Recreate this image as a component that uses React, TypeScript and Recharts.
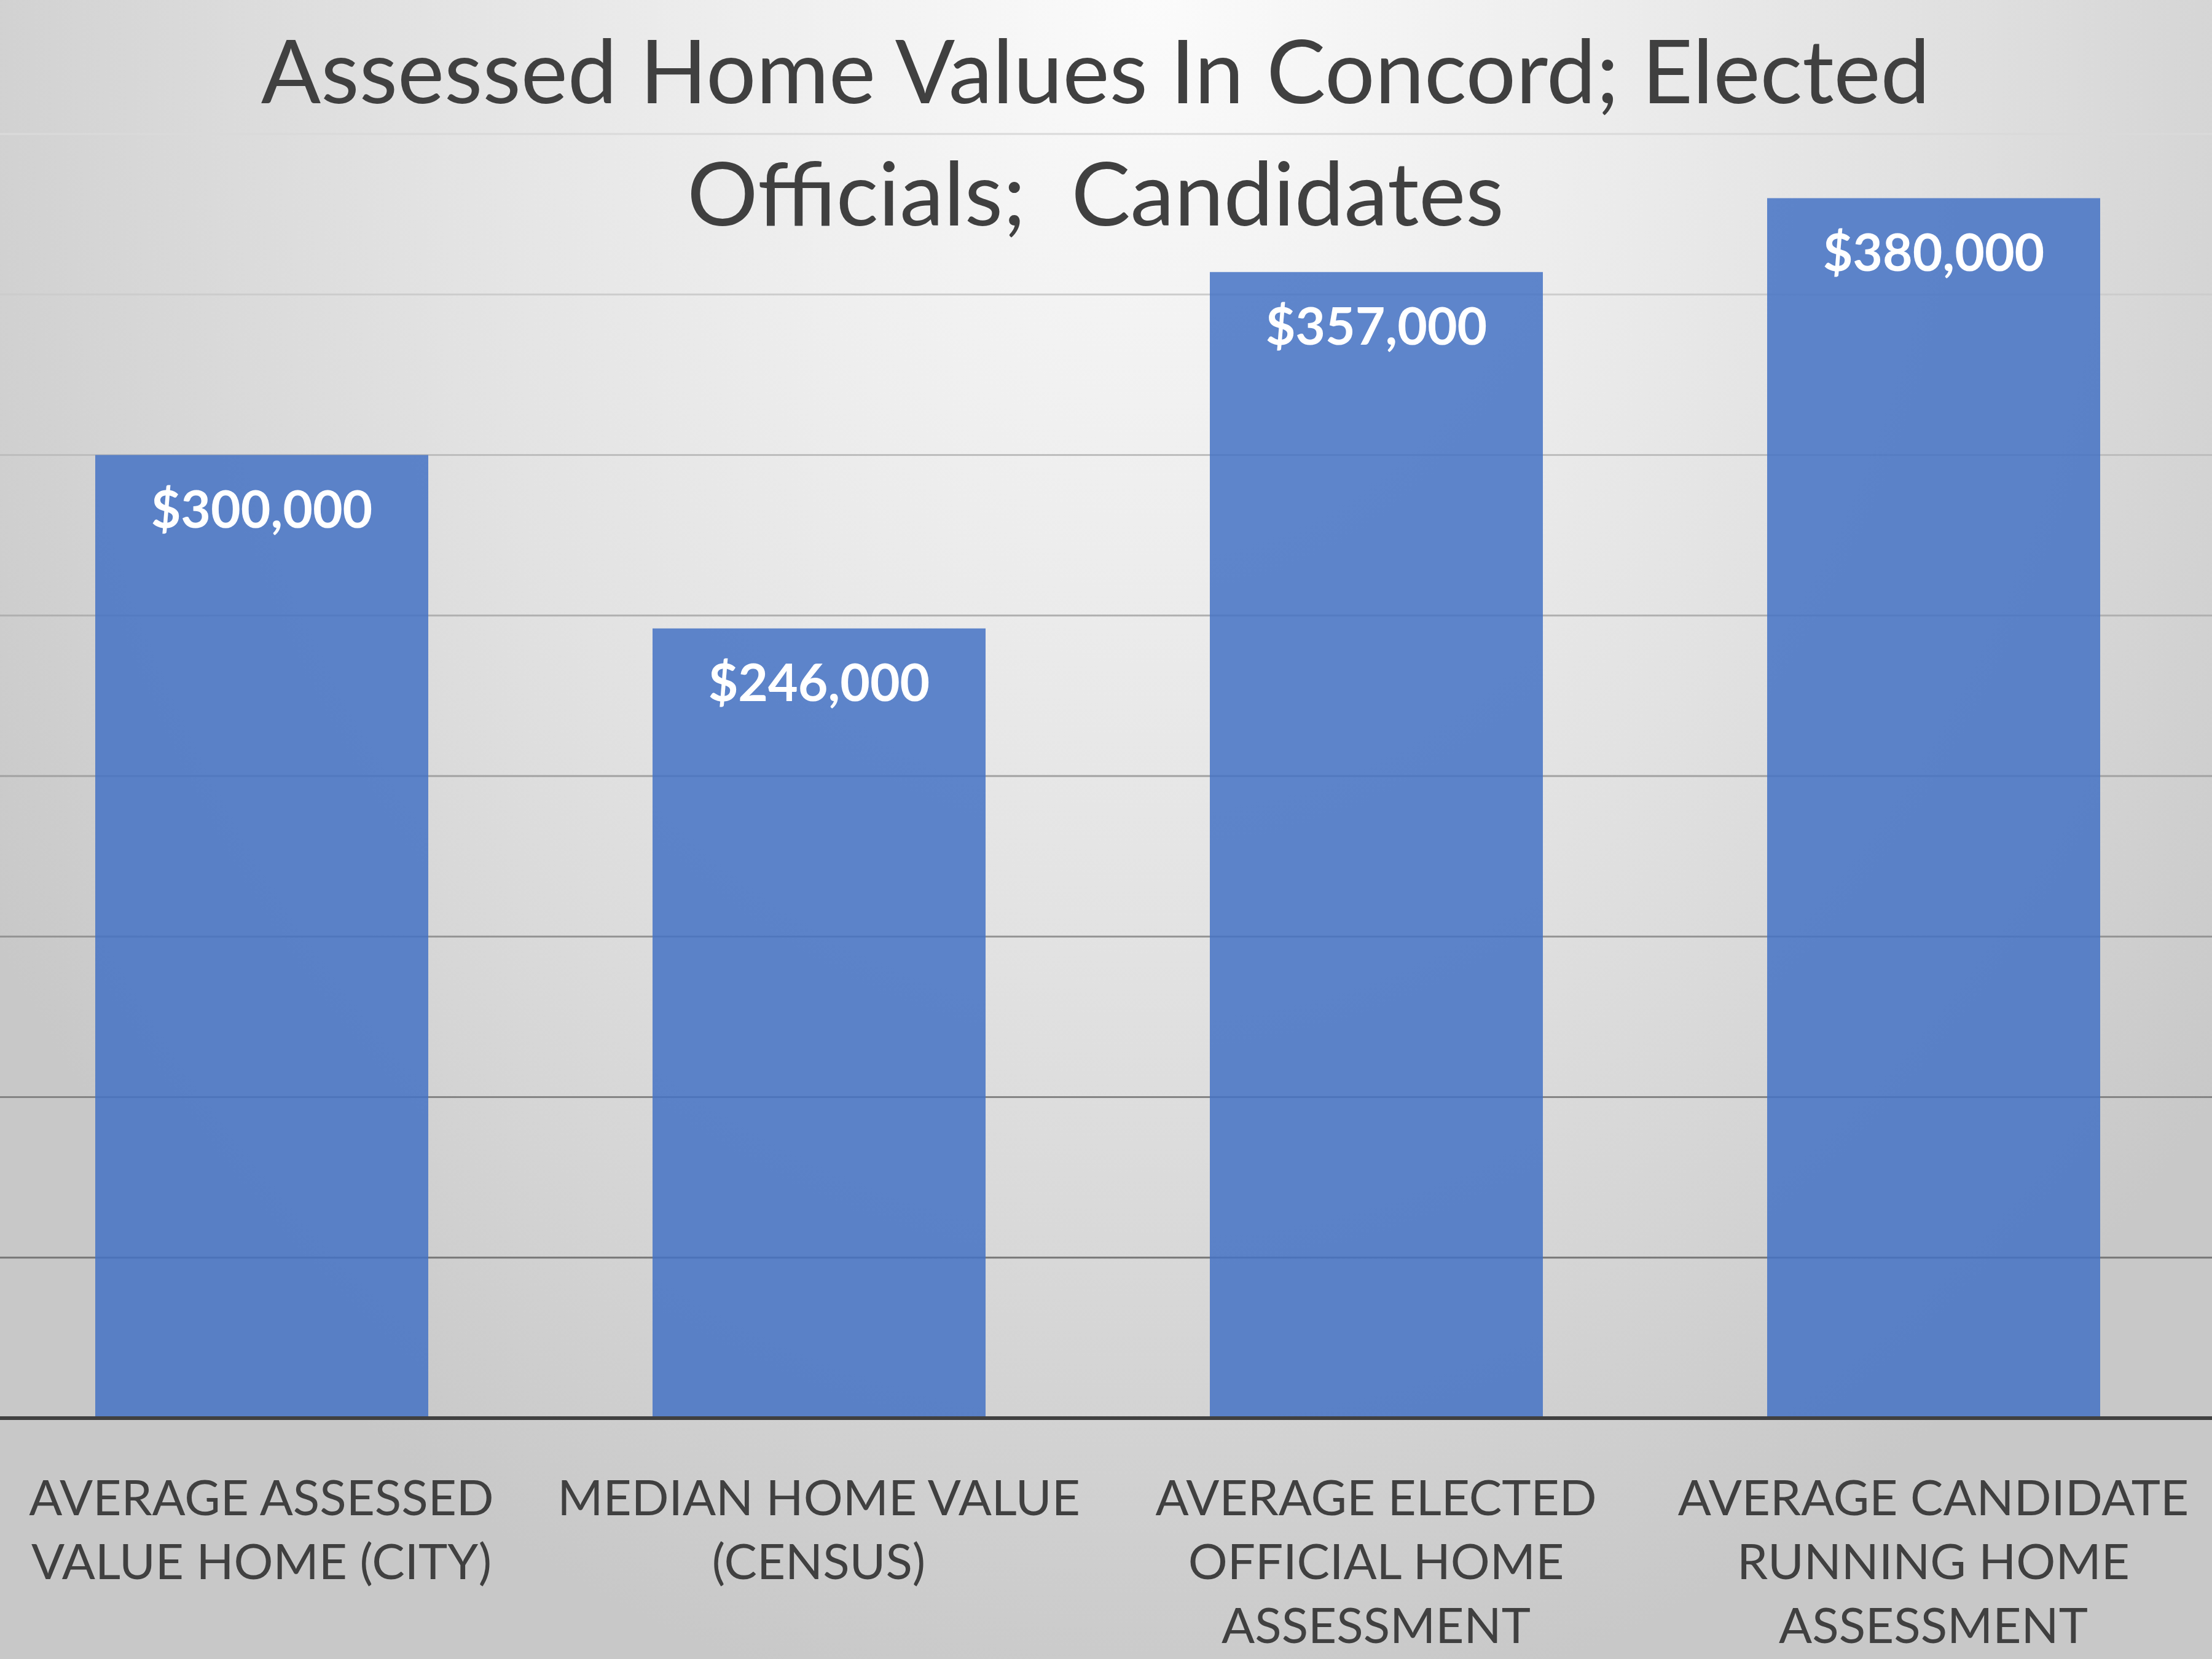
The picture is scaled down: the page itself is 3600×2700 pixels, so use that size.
import React from "react";
import { BarChart, Bar, XAxis, YAxis, CartesianGrid, LabelList } from "recharts";

const categories = [
  "AVERAGE ASSESSED VALUE HOME (CITY)",
  "MEDIAN HOME VALUE (CENSUS)",
  "AVERAGE ELECTED OFFICIAL HOME ASSESSMENT",
  "AVERAGE CANDIDATE RUNNING HOME ASSESSMENT",
];

// how each category label wraps under its bar
const categoryLines = [
  ["AVERAGE ASSESSED", "VALUE HOME (CITY)"],
  ["MEDIAN HOME VALUE", "(CENSUS)"],
  ["AVERAGE ELECTED", "OFFICIAL HOME", "ASSESSMENT"],
  ["AVERAGE CANDIDATE", "RUNNING HOME", "ASSESSMENT"],
];

const homeValues = [300000, 246000, 357000, 380000];

const yTicks = [0, 50000, 100000, 150000, 200000, 250000, 300000, 350000, 400000];

const titleLines = ["Assessed Home Values In Concord; Elected", "Officials;  Candidates"];

const data = categories.map((c, i) => ({ category: c, value: homeValues[i], lines: categoryLines[i] }));

const FONT = "Lato, 'Open Sans', sans-serif";

function gridColor(y: number) {
  // gridlines get darker toward the bottom of the plot
  const t = Math.max(0, Math.min(1, (y - 218) / (2047 - 218)));
  const g = Math.round(218 - t * 100);
  return `rgb(${g},${g},${g})`;
}

function GridLine(props: any) {
  const { x2, y1, y2 } = props;
  return <line x1={0} x2={x2 + 40} y1={y1} y2={y2} stroke={gridColor(y1)} strokeWidth={3} />;
}

function CategoryTick(props: any) {
  const { x, y, payload } = props;
  const row = data.find((d) => d.category === payload.value);
  const lines = row ? row.lines : [payload.value];
  return (
    <text x={x} y={y} textAnchor="middle" fill="#404040" fontFamily={FONT} fontSize={80}>
      {lines.map((l: string, i: number) => (
        <tspan key={i} x={x} y={y + 150 + i * 104}>
          {l}
        </tspan>
      ))}
    </text>
  );
}

function ValueLabel(props: any) {
  const { x, y, width, value } = props;
  return (
    <text
      x={x + width / 2}
      y={y + 118}
      textAnchor="middle"
      fill="#ffffff"
      fontFamily={FONT}
      fontWeight={700}
      fontSize={84}
    >
      {"$" + Number(value).toLocaleString("en-US")}
    </text>
  );
}

export default function App() {
  return (
    <div
      style={{
        position: "fixed",
        top: 0,
        left: 0,
        width: 3600,
        height: 2700,
        overflow: "hidden",
        background:
          "radial-gradient(ellipse 62% 105% at 52% 0%, #fbfbfb 0%, #eeeeee 30%, #e2e2e2 55%, #d4d4d4 80%, #c8c8c8 100%)",
      }}
    >
      <div style={{ position: "absolute", left: -28, top: 0 }}>
        <BarChart width={3628} height={2700} data={data} margin={{ top: 218, right: 0, left: 0, bottom: 0 }}>
          <CartesianGrid vertical={false} horizontal={(p: any) => <GridLine key={p.key} {...p} />} />
          <XAxis
            dataKey="category"
            axisLine={{ stroke: "#404040", strokeWidth: 6 }}
            tickLine={false}
            interval={0}
            height={392}
            tick={<CategoryTick />}
          />
          <YAxis hide domain={[0, 400000]} ticks={yTicks} />
          <Bar dataKey="value" fill="#4472C4" fillOpacity={0.85} barSize={542} isAnimationActive={false}>
            <LabelList dataKey="value" content={<ValueLabel />} />
          </Bar>
        </BarChart>
      </div>
      <svg width={3600} height={2700} style={{ position: "absolute", left: 0, top: 0, pointerEvents: "none" }}>
        {titleLines.map((t, i) => (
          <text
            key={i}
            x={1783}
            y={168 + i * 199}
            textAnchor="middle"
            fill="#404040"
            fontFamily={FONT}
            fontSize={144}
            style={{ whiteSpace: "pre" }}
          >
            {t}
          </text>
        ))}
      </svg>
    </div>
  );
}
